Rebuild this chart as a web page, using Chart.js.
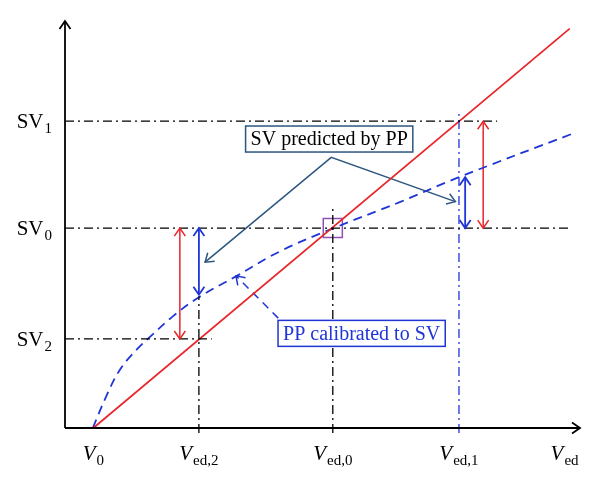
<!DOCTYPE html>
<html>
<head>
<meta charset="utf-8">
<script src="https://cdn.jsdelivr.net/npm/chart.js@4.4.1/dist/chart.umd.min.js"></script>
<style>
  body { margin: 0; background: #fff; }
  #wrap { width: 600px; height: 493px; }
</style>
</head>
<body>
<div id="wrap"><canvas id="chart"></canvas></div>
<script>
// --- DATA (abstract units: x = V_ed, y = SV) ---
const vedTicks = [0.55, 2.6, 5.2, 7.65, 9.7];
const vedSubs = ['0', 'ed,2', 'ed,0', 'ed,1', 'ed'];
const svTicks = [1.75, 3.93, 6.03];
const svSubs = ['2', '0', '1'];

// true SV vs V_ed (red straight line)
const trueX = [0.55, 9.8];
const trueY = [0, 7.85];

// PP calibrated curve (blue dashed)
const ppX = [0.54, 0.8, 1.07, 1.4, 1.65, 2.1, 2.6, 3.32, 4.17, 5.22, 6.5, 7.65, 9.84];
const ppY = [0, 0.62, 1.15, 1.55, 1.79, 2.2, 2.57, 2.98, 3.47, 3.93, 4.44, 4.93, 5.78];

// dash-dot guides
const hGuideEnd = [2.85, 9.84, 8.39];     // SV2, SV0, SV1
const vGuideTop = [2.59, 4.34, 6.21];     // Ved2, Ved0, Ved1

// double arrows
const redArrowX = [2.23, 8.12];
const redArrowTop = [3.93, 6.03];
const redArrowBottom = [1.75, 3.93];
const blueArrowX = [2.6, 7.77];
const blueArrowTop = [3.93, 4.93];
const blueArrowBottom = [2.62, 3.93];

// pointer lines from the notes
const predX = [2.72, 5.17, 7.58];
const predY = [3.26, 5.32, 4.45];
const calibX = [4.14, 3.32];
const calibY = [2.16, 2.99];

// notes
const noteText = ['SV predicted by PP', 'PP calibrated to SV'];
const noteX = [5.13, 5.76];
const noteY = [5.68, 1.86];

// --- HELPERS ---
const RED = '#e8262b';
const BLUE = '#1f35d6';
const NAVY = '#2c5680';
const SERIF = '"Liberation Serif", "DejaVu Serif", serif';
const DASHDOT = [9, 4, 2, 4];

function pts(xs, ys) {
    return xs.map((x, i) => ({ x: x, y: ys[i] }));
}

function line(data, color, width, dash, arrow) {
    return {
        type: 'line',
        data: data,
        borderColor: color,
        borderWidth: width,
        borderDash: dash || [],
        pointRadius: 0,
        fill: false,
        clip: false,
        arrow: arrow || null
    };
}

const datasets = [];

// axes with arrows
datasets.push(line([{ x: 0, y: 0 }, { x: 10, y: 0 }], '#000', 1.8, null, 'end'));
datasets.push(line([{ x: 0, y: 0 }, { x: 0, y: 8 }], '#000', 1.8, null, 'end'));

// guides
svTicks.forEach((v, i) => {
    datasets.push(line([{ x: 0, y: v }, { x: hGuideEnd[i], y: v }], '#000', 1.3, DASHDOT));
});
vGuideTop.forEach((t, i) => {
    const c = i === 2 ? BLUE : '#000';
    datasets.push(line([{ x: vedTicks[i + 1], y: -0.1 }, { x: vedTicks[i + 1], y: t }], c, 1.3, DASHDOT));
});

// curves
datasets.push(line(pts(trueX, trueY), RED, 1.7));
const ppSet = line(pts(ppX, ppY), BLUE, 1.8, [9, 6]);
ppSet.tension = 0.4;
datasets.push(ppSet);

// double arrows
redArrowX.forEach((x, i) => {
    datasets.push(line([{ x: x, y: redArrowTop[i] }, { x: x, y: redArrowBottom[i] }], RED, 1.5, null, 'both'));
});
blueArrowX.forEach((x, i) => {
    datasets.push(line([{ x: x, y: blueArrowTop[i] }, { x: x, y: blueArrowBottom[i] }], BLUE, 1.8, null, 'both'));
});

// pointers
datasets.push(line(pts(predX, predY), NAVY, 1.5, null, 'both'));
datasets.push(line(pts(calibX, calibY), BLUE, 1.5, [8, 6], 'end'));

// operating point marker
datasets.push({
    type: 'scatter',
    data: [{ x: vedTicks[2], y: svTicks[1] }],
    pointStyle: 'rect',
    pointRadius: 13.5,
    pointBackgroundColor: 'rgba(0,0,0,0)',
    pointBorderColor: '#8e52b5',
    pointBorderWidth: 1.5,
    clip: false
});

// --- PLUGINS ---
function head(ctx, tip, from, color, width) {
    const a = Math.atan2(tip.y - from.y, tip.x - from.x);
    const len = 8, half = 5.5;
    const bx = tip.x - len * Math.cos(a), by = tip.y - len * Math.sin(a);
    const px = -Math.sin(a) * half, py = Math.cos(a) * half;
    ctx.save();
    ctx.setLineDash([]);
    ctx.strokeStyle = color;
    ctx.lineWidth = width;
    ctx.beginPath();
    ctx.moveTo(bx + px, by + py);
    ctx.lineTo(tip.x, tip.y);
    ctx.lineTo(bx - px, by - py);
    ctx.stroke();
    ctx.restore();
}

const arrowPlugin = {
    id: 'arrows',
    afterDatasetsDraw(chart) {
        const ctx = chart.ctx;
        chart.data.datasets.forEach((ds, i) => {
            if (!ds.arrow) return;
            const el = chart.getDatasetMeta(i).data;
            const n = el.length;
            head(ctx, el[n - 1], el[n - 2], ds.borderColor, ds.borderWidth);
            if (ds.arrow === 'both') head(ctx, el[0], el[1], ds.borderColor, ds.borderWidth);
        });
    }
};

function subLabel(ctx, main, sub, x, y, italic, align) {
    const mainFont = (italic ? 'italic ' : '') + '21px ' + SERIF;
    const subFont = '15px ' + SERIF;
    ctx.font = mainFont;
    const w1 = ctx.measureText(main).width;
    ctx.font = subFont;
    const w2 = ctx.measureText(sub).width;
    const total = w1 + w2 + 1;
    let left = align === 'right' ? x - total : x - total / 2;
    ctx.fillStyle = '#000';
    ctx.textAlign = 'left';
    ctx.textBaseline = 'alphabetic';
    ctx.font = mainFont;
    ctx.fillText(main, left, y);
    ctx.font = subFont;
    ctx.fillText(sub, left + w1 + 1, y + 5);
}

const labelPlugin = {
    id: 'labels',
    afterDraw(chart) {
        const ctx = chart.ctx;
        const xs = chart.scales.x, ys = chart.scales.y;
        ctx.save();
        vedTicks.forEach((v, i) => {
            subLabel(ctx, 'V', vedSubs[i], xs.getPixelForValue(v), ys.bottom + 32, true, 'center');
        });
        svTicks.forEach((v, i) => {
            subLabel(ctx, 'SV', svSubs[i], xs.left - 13, ys.getPixelForValue(v) + 7, false, 'right');
        });
        // notes
        ctx.font = '20px ' + SERIF;
        ctx.textAlign = 'center';
        ctx.textBaseline = 'middle';
        noteText.forEach((t, i) => {
            const cx = xs.getPixelForValue(noteX[i]);
            const cy = ys.getPixelForValue(noteY[i]);
            const w = ctx.measureText(t).width + 10;
            const h = 26;
            const c = i === 0 ? NAVY : BLUE;
            ctx.fillStyle = '#fff';
            ctx.fillRect(cx - w / 2, cy - h / 2, w, h);
            ctx.strokeStyle = c;
            ctx.lineWidth = 1.5;
            ctx.strokeRect(cx - w / 2, cy - h / 2, w, h);
            ctx.fillStyle = i === 0 ? '#000' : BLUE;
            ctx.fillText(t, cx, cy + 1);
        });
        ctx.restore();
    }
};

// --- CHART ---
new Chart(document.getElementById('chart'), {
    type: 'line',
    data: { datasets: datasets },
    options: {
        responsive: true,
        maintainAspectRatio: false,
        animation: false,
        layout: { padding: { left: 65, right: 20, top: 21, bottom: 65 } },
        plugins: { legend: { display: false }, tooltip: { enabled: false } },
        scales: {
            x: { type: 'linear', min: 0, max: 10, display: false },
            y: { type: 'linear', min: 0, max: 8, display: false }
        }
    },
    plugins: [arrowPlugin, labelPlugin]
});
</script>
</body>
</html>
